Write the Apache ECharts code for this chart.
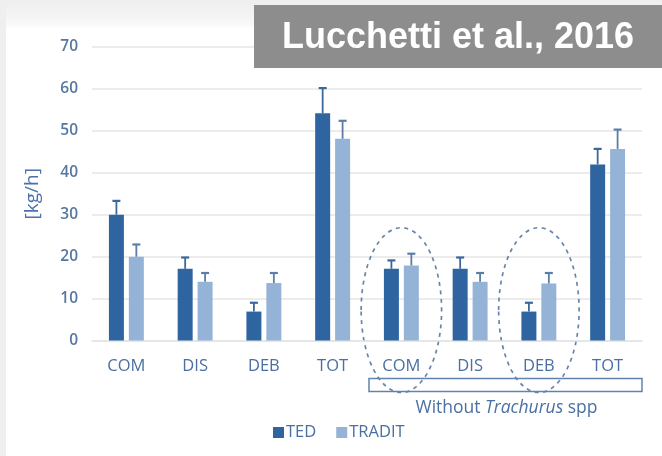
<!DOCTYPE html>
<html>
<head>
<meta charset="utf-8">
<script src="https://cdn.jsdelivr.net/npm/echarts@6/dist/echarts.min.js"></script>
<style>
  html, body { margin: 0; padding: 0; }
  body {
    width: 662px; height: 456px; overflow: hidden;
    background: linear-gradient(to bottom, #eeeeee 0px, #f6f6f6 20px, #fbfbfb 27px, #ffffff 27px);
    position: relative;
  }
  #strip { position: absolute; left: 0; top: 0; width: 6px; height: 456px; background: #efefef; }
  #chart { position: absolute; left: 0; top: 0; width: 662px; height: 456px; }
</style>
</head>
<body>
<div id="strip"></div>
<div id="chart"></div>
<script>
// Catch rates [kg/h] for TED and traditional trawl, mean with upper error bar
const categories = ['COM', 'DIS', 'DEB', 'TOT', 'COM', 'DIS', 'DEB', 'TOT'];
const tedMean = [30, 17.1, 6.9, 54.2, 17.1, 17.1, 6.9, 42];
const tedErr = [3.3, 2.7, 2.1, 6.0, 2.0, 2.7, 2.1, 3.7];
const traditMean = [20, 14, 13.7, 48.1, 17.9, 14, 13.6, 45.7];
const traditErr = [2.9, 2.1, 2.4, 4.3, 2.8, 2.1, 2.5, 4.6];
const yTicks = [0, 10, 20, 30, 40, 50, 60, 70];
const seriesNames = ['TED', 'TRADIT'];
const subsetLabel = { plain: 'Without ', italic: 'Trachurus', tail: ' spp' };
const sourceLabel = 'Lucchetti et al., 2016';
const highlightedIdx = [4, 6];

const colTed = '#2e64a0';
const colTradit = '#95b3d7';
const textBlue = '#4a6fa3';
const font = '"Open Sans", Lato, sans-serif';

const chart = echarts.init(document.getElementById('chart'), null, { renderer: 'canvas' });

// Error bar drawn above a bar; side = -1 for left bar, +1 for right bar
function errorBar(side, color) {
  return function (params, api) {
    const idx = api.value(0);
    const top = api.coord([idx, api.value(1) + api.value(2)]);
    const base = api.coord([idx, api.value(1)]);
    const band = api.size([1, 0])[0];
    const x = base[0] + side * band * 0.145;
    const cap = 4;
    return {
      type: 'group',
      children: [
        { type: 'line', shape: { x1: x, y1: base[1], x2: x, y2: top[1] },
          style: { stroke: color, lineWidth: 1.8 } },
        { type: 'line', shape: { x1: x - cap, y1: top[1], x2: x + cap, y2: top[1] },
          style: { stroke: color, lineWidth: 2.2 } }
      ]
    };
  };
}

const option = {
  animation: false,
  backgroundColor: 'transparent',
  grid: { left: 92, right: 20, top: 47, bottom: 115.5, containLabel: false },
  legend: {
    data: seriesNames,
    left: 268, top: 419,
    itemWidth: 11, itemHeight: 11, itemGap: 20,
    icon: 'rect',
    textStyle: { color: textBlue, fontSize: 16.5, fontFamily: font, padding: [0, 0, 0, -3] }
  },
  xAxis: {
    type: 'category',
    data: categories,
    axisLine: { show: true, lineStyle: { color: '#e4e4e4', width: 1.5 } },
    axisTick: { show: false },
    axisLabel: { color: textBlue, fontSize: 16.5, fontFamily: font, margin: 17 }
  },
  yAxis: {
    type: 'value',
    min: yTicks[0], max: yTicks[yTicks.length - 1], interval: 10,
    name: '[kg/h]',
    nameLocation: 'middle',
    nameGap: 50,
    nameRotate: 90,
    nameTextStyle: { color: '#4a72ad', fontSize: 19, fontFamily: font },
    axisLine: { show: false },
    axisTick: { show: false },
    axisLabel: { color: '#56779f', fontSize: 15.5, fontWeight: 600, fontFamily: font, margin: 14 },
    splitLine: { lineStyle: { color: '#e6e6e6', width: 1.5 } }
  },
  series: [
    {
      name: seriesNames[0], type: 'bar', data: tedMean,
      barWidth: '21.8%', barGap: '33%',
      itemStyle: { color: colTed }
    },
    {
      name: seriesNames[1], type: 'bar', data: traditMean,
      barWidth: '21.8%', barGap: '33%',
      itemStyle: { color: colTradit }
    },
    {
      type: 'custom', name: 'TED err',
      renderItem: errorBar(-1, '#3a689d'),
      encode: { x: 0, y: 1 },
      data: tedMean.map((m, i) => [i, m, tedErr[i]]),
      z: 3
    },
    {
      type: 'custom', name: 'TRADIT err',
      renderItem: errorBar(1, '#5a7ea9'),
      encode: { x: 0, y: 1 },
      data: traditMean.map((m, i) => [i, m, traditErr[i]]),
      z: 3
    }
  ]
};
chart.setOption(option);

// Annotations: dashed ellipses, subset bracket and source box
function annotations() {
  const xPix = i => chart.convertToPixel({ xAxisIndex: 0 }, i);
  const yPix = v => chart.convertToPixel({ yAxisIndex: 0 }, v);
  const band = xPix(1) - xPix(0);
  const y0 = yPix(0);
  const ellTop = yPix(26.9);
  const ellBottom = y0 + 52;
  const ry = (ellBottom - ellTop) / 2;
  const ellipses = highlightedIdx.map(i => ({
    type: 'ellipse',
    shape: { cx: xPix(i), cy: ellTop + ry, rx: band * 0.585, ry: ry },
    style: { fill: null, stroke: '#6a85ac', lineWidth: 1.7, lineDash: [4, 4.5] },
    silent: true
  }));
  const rectLeft = xPix(4) - band / 2 + 2;
  const rectRight = xPix(7) + band / 2;
  return [
    ...ellipses,
    {
      type: 'rect',
      shape: { x: rectLeft, y: y0 + 38, width: rectRight - rectLeft, height: 13 },
      style: { fill: null, stroke: '#5f82ae', lineWidth: 1.5 },
      silent: true
    },
    {
      type: 'text',
      x: (rectLeft + rectRight) / 2 + 1, y: y0 + 68,
      style: {
        text: '{p|' + subsetLabel.plain + '}{i|' + subsetLabel.italic + '}{p|' + subsetLabel.tail + '}',
        align: 'center', verticalAlign: 'middle',
        rich: {
          p: { fill: textBlue, fontSize: 17.5, fontFamily: font },
          i: { fill: textBlue, fontSize: 17.5, fontFamily: font, fontStyle: 'italic' }
        }
      },
      silent: true
    },
    {
      type: 'rect',
      shape: { x: 254, y: 5, width: 408, height: 63 },
      style: { fill: '#8d8d8d' },
      z: 100
    },
    {
      type: 'text',
      x: 458, y: 38,
      style: {
        text: sourceLabel, fill: '#ffffff', align: 'center', verticalAlign: 'middle',
        fontSize: 36, fontWeight: 'bold', fontFamily: '"Liberation Sans", Arial, sans-serif'
      },
      z: 101
    }
  ];
}
chart.setOption({ graphic: { elements: annotations() } });
</script>
</body>
</html>
